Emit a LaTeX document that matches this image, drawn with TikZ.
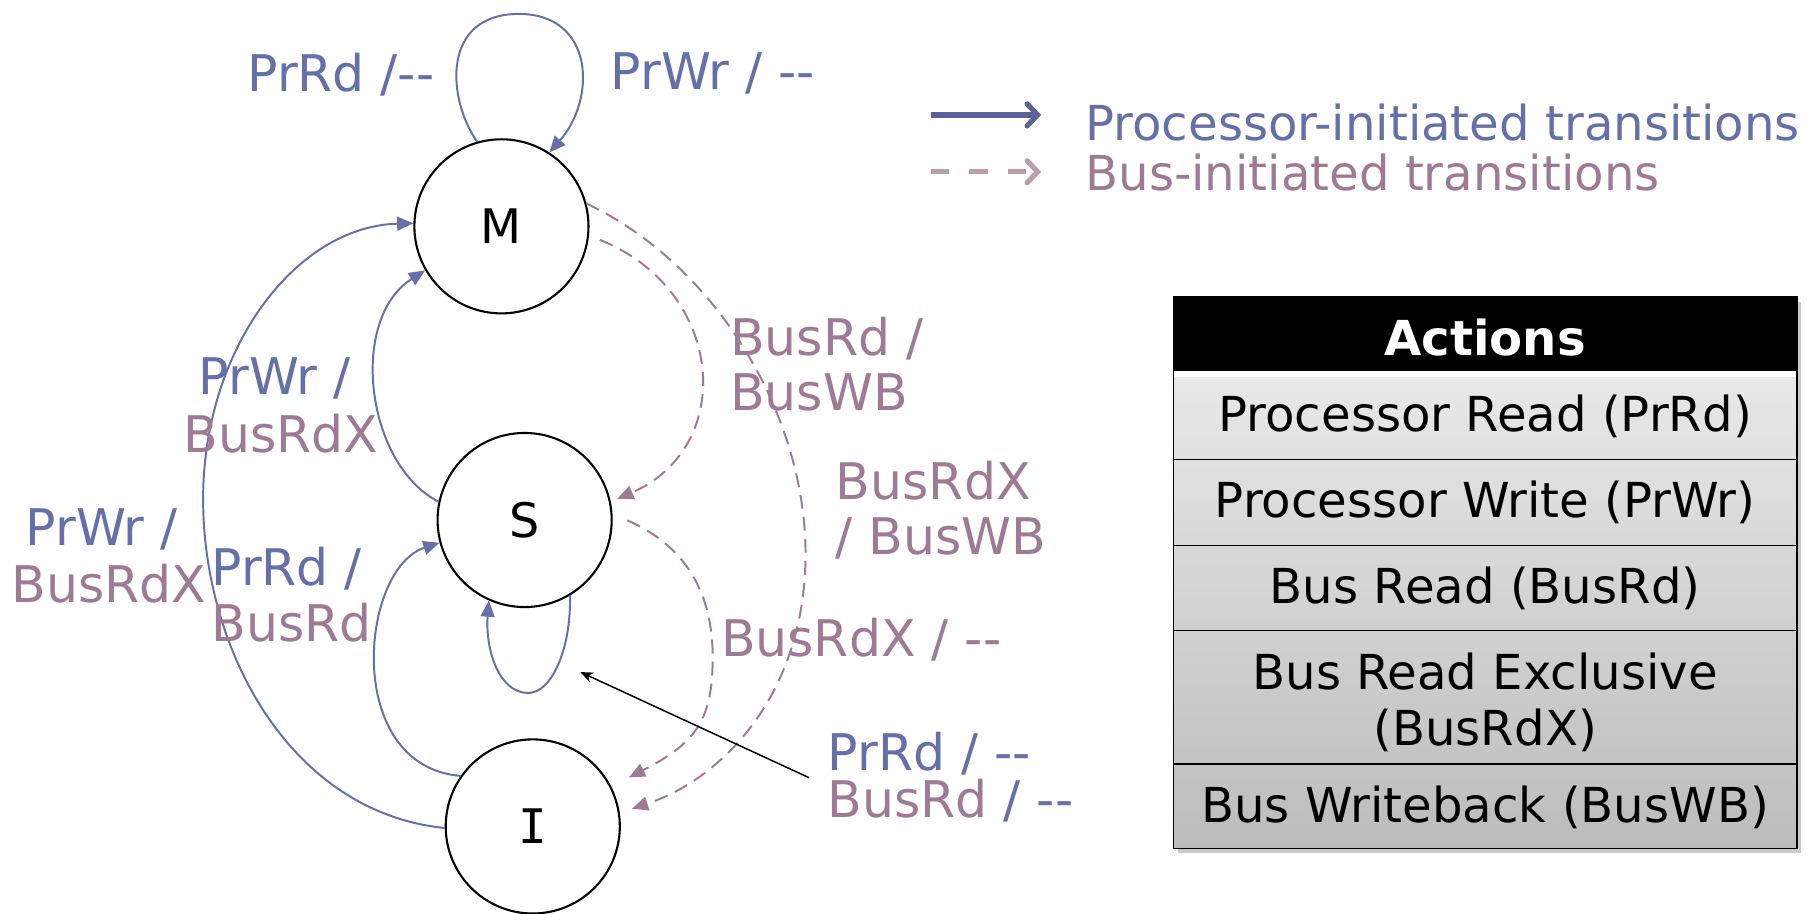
\documentclass[tikz,border=0pt]{standalone}
\usepackage{fontspec}
\setmainfont{DejaVu Sans}
\newfontfamily\monofnt{DejaVu Sans Mono}
\usetikzlibrary{arrows.meta}
\definecolor{procblue}{RGB}{101,111,170}
\definecolor{busmauve}{RGB}{158,123,147}
\definecolor{legblue}{RGB}{90,98,152}
\definecolor{legmauve}{RGB}{186,158,176}
\definecolor{tbltop}{RGB}{232,232,232}
\definecolor{tblbot}{RGB}{188,188,188}
\begin{document}
\begin{tikzpicture}[x=1pt,y=-1pt,
  state/.style={circle, draw=black, line width=1.8pt, minimum size=150pt, inner sep=0pt, font=\fontsize{41}{48}\selectfont},
  proc/.style={draw=procblue, line width=1.7pt, -{Triangle[length=14pt,width=12pt]}},
  bus/.style={draw=busmauve, line width=1.7pt, dash pattern=on 12pt off 7pt, -{Triangle[length=14pt,width=12pt]}},
  pointer/.style={draw=black, line width=1.3pt, -{Stealth[length=11pt,width=9pt]}},
  lbl/.style={font=\fontsize{43.5}{49}\selectfont, inner sep=0pt, anchor=base west},
  legtxt/.style={font=\fontsize{41.5}{48}\selectfont, inner sep=0pt, anchor=base west},
  tbl/.style={font=\fontsize{41.5}{48}\selectfont, inner sep=0pt, anchor=base},
]
\useasboundingbox (0,0) rectangle (1568,787);

% states
\node[state] (M) at (432,195) {M};
\node[state] (S) at (452,448) {S};
\node[state] (I) at (459,712) {\monofnt I};

% processor-initiated transitions
\draw[proc] (M.106) .. controls (385,85) and (380,12) .. (447,12) .. controls (512,12) and (514,85) .. (M.57);
\draw[proc] (I.181) .. controls (250,700) and (175,560) .. (175,430) .. controls (175,300) and (255,195) .. (M.178);
\draw[proc] (S.168) .. controls (315,400) and (300,275) .. (M.210);
\draw[proc] (I.145) .. controls (295,660) and (310,490) .. (S.195);
\draw[proc] (S.-59) .. controls (492,560) and (475,597) .. (455,597) .. controls (430,597) and (418,560) .. (S.246);

% bus-initiated transitions
\draw[bus, shorten <=10pt, shorten >=6pt] (M.-6) .. controls (625,250) and (635,385) .. (S.12);
\draw[bus, shorten >=11pt] (M.15) .. controls (620,230) and (694,360) .. (694,477) .. controls (694,600) and (620,672) .. (I.9);
\draw[bus, shorten <=14pt, shorten >=17pt] (S.4) .. controls (590,470) and (614,510) .. (614,566) .. controls (614,620) and (600,640) .. (I.27);

% pointer
\coordinate (ptrA) at (697,670);
\coordinate (ptrB) at (500,579);
\draw[pointer] (ptrA) -- (ptrB);

% labels
\node[lbl, text=procblue] (l1) at (213,79) {PrRd /-{}-};
\node[lbl, text=procblue] (l2) at (526,77) {PrWr / -{}-};
\node[lbl, text=procblue] (l3a) at (171,340) {PrWr /};
\node[lbl, text=busmauve] (l3b) at (158,390) {BusRdX};
\node[lbl, text=procblue] (l4a) at (22,470) {PrWr /};
\node[lbl, text=busmauve] (l4b) at (10,519) {BusRdX};
\node[lbl, text=procblue] (l5a) at (182,504) {PrRd /};
\node[lbl, text=busmauve] (l5b) at (182,553) {BusRd};
\node[lbl, text=busmauve] (l6a) at (629,306) {BusRd /};
\node[lbl, text=busmauve] (l6b) at (629,354) {BusWB};
\node[lbl, text=busmauve] (l7a) at (720,430) {BusRdX};
\node[lbl, text=busmauve] (l7b) at (720,478) {/ BusWB};
\node[lbl, text=busmauve] (l8) at (621,566) {BusRdX / -{}-};
\node[lbl, align=left, font=\fontsize{43.5}{40}\selectfont] (l9) at (713,704)
  {\textcolor{procblue}{PrRd / -{}-}\\\textcolor{busmauve}{BusRd}\ \textcolor{procblue}{/ -{}-}};

% legend
\coordinate (lgA1) at (802,99);
\coordinate (lgA2) at (897,99);
\coordinate (lgB1) at (802,148);
\coordinate (lgB2) at (897,148);
\draw[legblue, line width=4.5pt, -{Straight Barb[length=9pt,width=19pt,line cap=round]}] (lgA1) -- (lgA2);
\draw[legmauve, line width=4.5pt, dash pattern=on 16pt off 17pt, -{Straight Barb[length=9pt,width=19pt,line cap=round]}] (lgB1) -- (lgB2);
\node[legtxt, text=procblue] (lgT1) at (935,121) {Processor-initiated transitions};
\node[legtxt, text=busmauve] (lgT2) at (935,164) {Bus-initiated transitions};

% table
\fill[black!35, opacity=0.6] (1015,260) rectangle (1552,735);
\fill[white] (1011,256) rectangle (1548,731);
\fill[black] (1011,256) rectangle (1548,320);
\shade[top color=tbltop, bottom color=tblbot] (1011,325) rectangle (1548,731);
\draw[line width=1.3pt] (1011,396) -- (1548,396);
\draw[line width=1.3pt] (1011,470) -- (1548,470);
\draw[line width=1.3pt] (1011,543) -- (1548,543);
\draw[line width=1.3pt] (1011,658) -- (1548,658);
\draw[line width=1.5pt] (1011,256) rectangle (1548,731);
\node[tbl, text=white, font=\fontsize{41.5}{48}\selectfont\bfseries] (th) at (1279.5,306) {Actions};
\node[tbl] (t1) at (1279.5,372) {Processor Read (PrRd)};
\node[tbl] (t2) at (1279.5,446) {Processor Write (PrWr)};
\node[tbl] (t3) at (1279.5,520) {Bus Read (BusRd)};
\node[tbl] (t4a) at (1279.5,594) {Bus Read Exclusive};
\node[tbl] (t4b) at (1279.5,642) {(BusRdX)};
\node[tbl] (t5) at (1279.5,709) {Bus Writeback (BusWB)};
\end{tikzpicture}
\end{document}
